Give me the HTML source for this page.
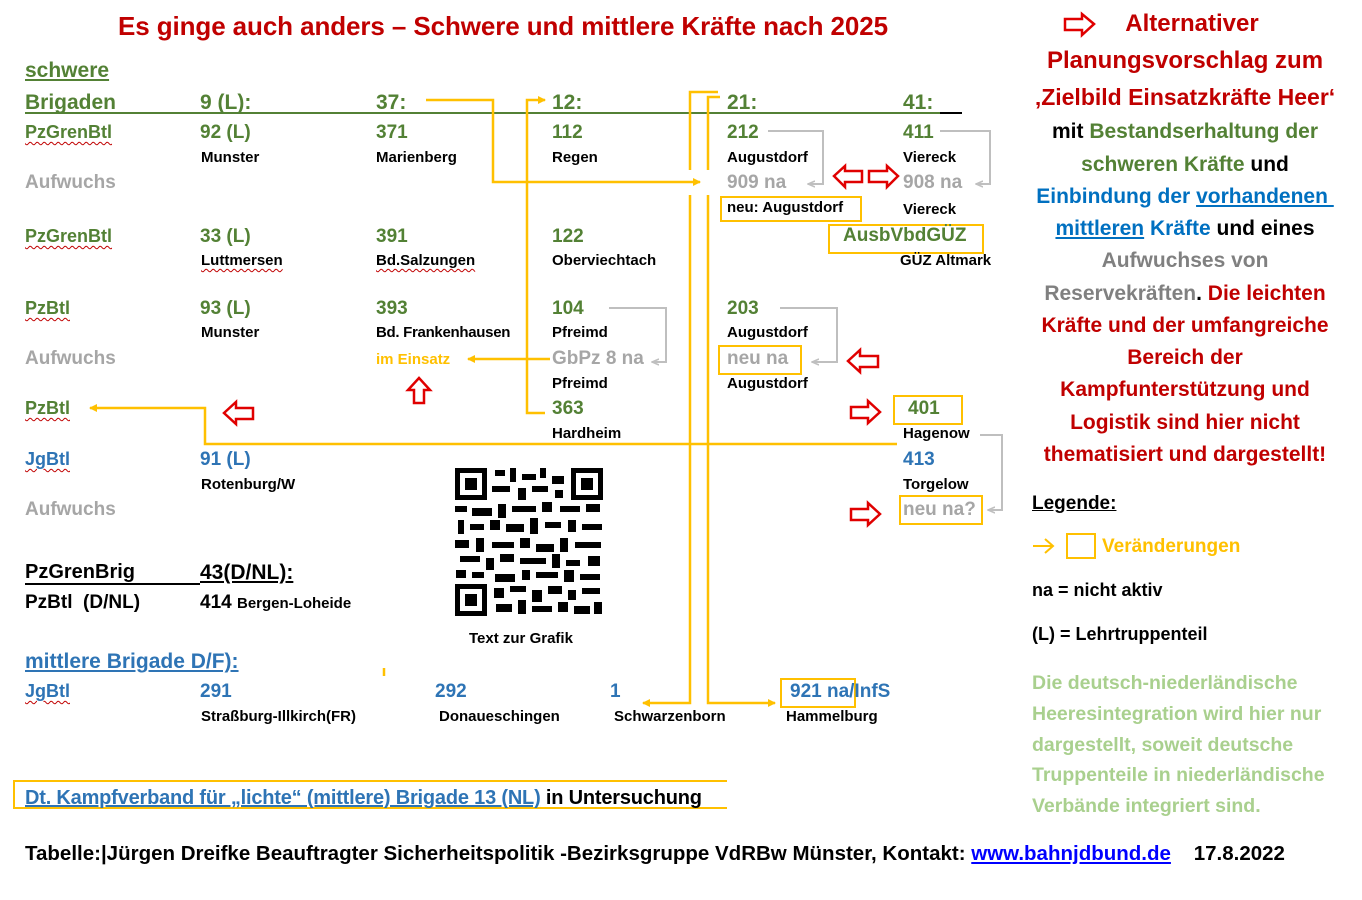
<!DOCTYPE html>
<html><head><meta charset="utf-8">
<style>
body{margin:0;background:#fff;}
#c{position:relative;width:1362px;height:900px;overflow:hidden;font-family:"Liberation Sans",sans-serif;font-weight:bold;}
.t{position:absolute;white-space:nowrap;line-height:1;}
.n{font-size:19px;color:#538135;}
.b{font-size:19px;color:#2e74b5;}
.g{font-size:19px;color:#a6a6a6;}
.p{font-size:15px;color:#000;}
.bx{position:absolute;border:2px solid #ffc000;}
.r{position:absolute;width:100%;text-align:center;left:0;}
.sq{text-decoration:underline wavy #c00000 1px;text-underline-offset:3px;}
</style></head><body><div id="c">

<div class="t" style="left:118px;top:13px;font-size:26px;color:#c00000;letter-spacing:-0.1px">Es ginge auch anders – Schwere und mittlere Kräfte nach 2025</div>

<svg width="1362" height="900" style="position:absolute;left:0;top:0">
<defs>
<marker id="ay" markerWidth="8" markerHeight="8" refX="7" refY="4" orient="auto" markerUnits="userSpaceOnUse"><path d="M0,0 L8,4 L0,8 z" fill="#ffc000"/></marker>
<marker id="ag" markerWidth="8" markerHeight="8" refX="7" refY="4" orient="auto" markerUnits="userSpaceOnUse"><path d="M0,1 L7,4 L0,7" fill="none" stroke="#bfbfbf" stroke-width="1.5"/></marker>
</defs>
<line x1="25" y1="113" x2="940" y2="113" stroke="#538135" stroke-width="2"/>
<line x1="940" y1="113" x2="962" y2="113" stroke="#000" stroke-width="2"/>
<g fill="none" stroke="#ffc000" stroke-width="2.5">
<polyline points="426,100 493,100 493,182 700,182" marker-end="url(#ay)"/>
<polyline points="545,413 527,413 527,100 545,100" marker-end="url(#ay)"/>
<polyline points="550,359 468,359" marker-end="url(#ay)"/>
<polyline points="897,444 205,444 205,408 90,408" marker-end="url(#ay)"/>
<polyline points="718,92 690,92 690,170"/>
<polyline points="690,195 690,703 643,703" marker-end="url(#ay)"/>
<polyline points="720,97 708,97 708,170"/>
<polyline points="708,195 708,703 775,703" marker-end="url(#ay)"/>
<line x1="384" y1="668" x2="384" y2="676"/>
</g>
<g fill="none" stroke="#bfbfbf" stroke-width="2">
<polyline points="768,131 823,131 823,184 808,184" marker-end="url(#ag)"/>
<polyline points="940,131 990,131 990,184 976,184" marker-end="url(#ag)"/>
<polyline points="609,308 666,308 666,362 652,362" marker-end="url(#ag)"/>
<polyline points="780,308 837,308 837,362 812,362" marker-end="url(#ag)"/>
<polyline points="980,435 1002,435 1002,510 988,510" marker-end="url(#ag)"/>
</g>
<g fill="#fff" stroke="#e00000" stroke-width="2.5">
<path d="M834,176 L845,166 L845,171 L862,171 L862,182 L845,182 L845,187 z"/>
<path d="M898,176 L887,166 L887,171 L869,171 L869,182 L887,182 L887,187 z"/>
<path d="M848,361 L860,350 L860,356 L878,356 L878,367 L860,367 L860,372 z"/>
<path d="M224,413 L236,402 L236,408 L253,408 L253,419 L236,419 L236,424 z"/>
<path d="M419,378 L430,390 L424,390 L424,403 L414,403 L414,390 L408,390 z"/>
<path d="M880,412 L868,401 L868,407 L851,407 L851,418 L868,418 L868,423 z"/>
<path d="M880,514 L868,503 L868,509 L851,509 L851,520 L868,520 L868,525 z"/>
<path d="M1094,24 L1082,14 L1082,19 L1065,19 L1065,30 L1082,30 L1082,35 z"/>
</g>
<path d="M1033,546 L1052,546 M1045,539 L1053,546 L1045,553" fill="none" stroke="#ffc000" stroke-width="2"/>
<!-- QR -->
<g fill="#000">
<rect x="455" y="468" width="32" height="32"/><rect x="460" y="473" width="22" height="22" fill="#fff"/><rect x="465" y="478" width="12" height="12"/>
<rect x="571" y="468" width="32" height="32"/><rect x="576" y="473" width="22" height="22" fill="#fff"/><rect x="581" y="478" width="12" height="12"/>
<rect x="455" y="584" width="32" height="32"/><rect x="460" y="589" width="22" height="22" fill="#fff"/><rect x="465" y="594" width="12" height="12"/>
<rect x="495" y="470" width="10" height="6"/><rect x="510" y="468" width="6" height="14"/><rect x="522" y="474" width="14" height="6"/><rect x="540" y="468" width="6" height="10"/><rect x="552" y="476" width="12" height="8"/>
<rect x="492" y="486" width="18" height="6"/><rect x="518" y="488" width="8" height="12"/><rect x="532" y="486" width="16" height="6"/><rect x="555" y="490" width="8" height="8"/>
<rect x="455" y="506" width="12" height="6"/><rect x="472" y="508" width="20" height="8"/><rect x="498" y="504" width="8" height="14"/><rect x="512" y="506" width="24" height="6"/><rect x="542" y="502" width="10" height="10"/><rect x="560" y="506" width="20" height="6"/><rect x="586" y="504" width="14" height="8"/>
<rect x="458" y="520" width="6" height="14"/><rect x="470" y="524" width="14" height="6"/><rect x="490" y="520" width="10" height="10"/><rect x="506" y="524" width="18" height="8"/><rect x="530" y="518" width="8" height="16"/><rect x="545" y="522" width="16" height="6"/><rect x="568" y="520" width="8" height="12"/><rect x="582" y="524" width="20" height="6"/>
<rect x="455" y="540" width="14" height="8"/><rect x="476" y="538" width="8" height="14"/><rect x="492" y="542" width="22" height="6"/><rect x="520" y="538" width="10" height="10"/><rect x="536" y="544" width="18" height="8"/><rect x="560" y="538" width="8" height="14"/><rect x="575" y="542" width="26" height="6"/>
<rect x="460" y="556" width="20" height="6"/><rect x="486" y="558" width="8" height="12"/><rect x="500" y="554" width="14" height="8"/><rect x="520" y="558" width="26" height="6"/><rect x="552" y="554" width="8" height="14"/><rect x="566" y="560" width="14" height="6"/><rect x="588" y="556" width="12" height="10"/>
<rect x="456" y="570" width="10" height="8"/><rect x="472" y="572" width="12" height="6"/><rect x="495" y="574" width="20" height="8"/><rect x="522" y="570" width="8" height="10"/><rect x="536" y="572" width="22" height="6"/><rect x="564" y="570" width="10" height="12"/><rect x="580" y="574" width="20" height="6"/>
<rect x="494" y="588" width="10" height="10"/><rect x="510" y="586" width="16" height="6"/><rect x="532" y="590" width="10" height="12"/><rect x="548" y="586" width="14" height="8"/><rect x="568" y="590" width="8" height="10"/><rect x="582" y="588" width="18" height="6"/>
<rect x="496" y="604" width="16" height="8"/><rect x="518" y="600" width="8" height="14"/><rect x="532" y="606" width="20" height="6"/><rect x="558" y="602" width="10" height="10"/><rect x="574" y="606" width="16" height="8"/><rect x="594" y="602" width="8" height="12"/>
</g>
</svg>

<div class="t n" style="left:25px;top:60px;font-size:21px;text-decoration:underline">schwere</div>
<div class="t n" style="left:25px;top:92px;font-size:21px">Brigaden</div>
<div class="t n" style="left:200px;top:92px;font-size:21px">9 (L):</div>
<div class="t n" style="left:376px;top:92px;font-size:21px">37:</div>
<div class="t n" style="left:552px;top:92px;font-size:21px">12:</div>
<div class="t n" style="left:727px;top:92px;font-size:21px">21:</div>
<div class="t n" style="left:903px;top:92px;font-size:21px">41:</div>

<div class="t n sq" style="left:25px;top:123px;font-size:18px">PzGrenBtl</div>
<div class="t n" style="left:200px;top:123px">92 (L)</div>
<div class="t n" style="left:376px;top:123px">371</div>
<div class="t n" style="left:552px;top:123px">112</div>
<div class="t n" style="left:727px;top:123px">212</div>
<div class="t n" style="left:903px;top:123px">411</div>
<div class="t p" style="left:201px;top:150px">Munster</div>
<div class="t p" style="left:376px;top:150px">Marienberg</div>
<div class="t p" style="left:552px;top:150px">Regen</div>
<div class="t p" style="left:727px;top:150px">Augustdorf</div>
<div class="t p" style="left:903px;top:150px">Viereck</div>
<div class="t g" style="left:25px;top:173px">Aufwuchs</div>
<div class="t g" style="left:727px;top:173px">909 na</div>
<div class="t g" style="left:903px;top:173px">908 na</div>
<div class="bx" style="left:720px;top:196px;width:138px;height:22px"></div>
<div class="t p" style="left:727px;top:200px">neu: Augustdorf</div>
<div class="t p" style="left:903px;top:202px">Viereck</div>
<div class="bx" style="left:828px;top:224px;width:152px;height:26px"></div>
<div class="t n" style="left:843px;top:226px">AusbVbdGÜZ</div>
<div class="t p" style="left:900px;top:253px">GÜZ Altmark</div>

<div class="t n sq" style="left:25px;top:227px;font-size:18px">PzGrenBtl</div>
<div class="t n" style="left:200px;top:227px">33 (L)</div>
<div class="t n" style="left:376px;top:227px">391</div>
<div class="t n" style="left:552px;top:227px">122</div>
<div class="t p sq" style="left:201px;top:253px">Luttmersen</div>
<div class="t p sq" style="left:376px;top:253px">Bd.Salzungen</div>
<div class="t p" style="left:552px;top:253px">Oberviechtach</div>

<div class="t n sq" style="left:25px;top:299px;font-size:18px">PzBtl</div>
<div class="t n" style="left:200px;top:299px">93 (L)</div>
<div class="t n" style="left:376px;top:299px">393</div>
<div class="t n" style="left:552px;top:299px">104</div>
<div class="t n" style="left:727px;top:299px">203</div>
<div class="t p" style="left:201px;top:325px">Munster</div>
<div class="t p" style="left:376px;top:325px;letter-spacing:-0.3px">Bd. Frankenhausen</div>
<div class="t p" style="left:552px;top:325px">Pfreimd</div>
<div class="t p" style="left:727px;top:325px">Augustdorf</div>
<div class="t g" style="left:25px;top:349px">Aufwuchs</div>
<div class="t" style="left:376px;top:352px;font-size:15px;color:#ffc000">im Einsatz</div>
<div class="t g" style="left:552px;top:349px">GbPz 8 na</div>
<div class="bx" style="left:718px;top:345px;width:80px;height:26px"></div>
<div class="t g" style="left:727px;top:349px">neu na</div>
<div class="t p" style="left:552px;top:376px">Pfreimd</div>
<div class="t p" style="left:727px;top:376px">Augustdorf</div>

<div class="t n sq" style="left:25px;top:399px;font-size:18px">PzBtl</div>
<div class="t n" style="left:552px;top:399px">363</div>
<div class="bx" style="left:893px;top:395px;width:66px;height:26px"></div>
<div class="t n" style="left:908px;top:399px">401</div>
<div class="t p" style="left:552px;top:426px">Hardheim</div>
<div class="t p" style="left:903px;top:426px">Hagenow</div>

<div class="t b sq" style="left:25px;top:450px;font-size:18px">JgBtl</div>
<div class="t b" style="left:200px;top:450px">91 (L)</div>
<div class="t b" style="left:903px;top:450px">413</div>
<div class="t p" style="left:201px;top:477px">Rotenburg/W</div>
<div class="t p" style="left:903px;top:477px">Torgelow</div>
<div class="t g" style="left:25px;top:500px">Aufwuchs</div>
<div class="bx" style="left:899px;top:495px;width:80px;height:26px"></div>
<div class="t g" style="left:903px;top:500px">neu na?</div>

<div class="t" style="left:25px;top:562px;font-size:20px;color:#000;border-bottom:2px solid #000;width:175px;padding-bottom:1px">PzGrenBrig</div>
<div class="t" style="left:200px;top:562px;font-size:21px;color:#000;text-decoration:underline">43(D/NL):</div>
<div class="t" style="left:25px;top:593px;font-size:19px;color:#000">PzBtl &nbsp;(D/NL)</div>
<div class="t" style="left:200px;top:593px;font-size:19px;color:#000">414 <span style="font-size:15px">Bergen-Loheide</span></div>
<div class="t p" style="left:469px;top:631px">Text zur Grafik</div>

<div class="t b" style="left:25px;top:651px;font-size:21px;text-decoration:underline">mittlere Brigade D/F):</div>
<div class="t b sq" style="left:25px;top:682px;font-size:18px">JgBtl</div>
<div class="t b" style="left:200px;top:682px">291</div>
<div class="t b" style="left:435px;top:682px">292</div>
<div class="t b" style="left:610px;top:682px">1</div>
<div class="bx" style="left:780px;top:678px;width:72px;height:26px"></div>
<div class="t b" style="left:790px;top:682px">921 na/InfS</div>
<div class="t p" style="left:201px;top:709px">Straßburg-Illkirch(FR)</div>
<div class="t p" style="left:439px;top:709px">Donaueschingen</div>
<div class="t p" style="left:614px;top:709px">Schwarzenborn</div>
<div class="t p" style="left:786px;top:709px">Hammelburg</div>

<div class="bx" style="left:13px;top:780px;width:712px;height:25px;border-right:none"></div>
<div class="t" style="left:25px;top:788px;font-size:20px;color:#2e74b5;letter-spacing:-0.2px"><span style="text-decoration:underline">Dt. Kampfverband für „lichte“ (mittlere) Brigade 13 (NL)</span> <span style="color:#000">in Untersuchung</span></div>

<div class="t" style="left:25px;top:844px;font-size:20.5px;color:#000;letter-spacing:0px">Tabelle:|Jürgen Dreifke Beauftragter Sicherheitspolitik -Bezirksgruppe VdRBw Münster, Kontakt: <span style="color:#0000ff;text-decoration:underline">www.bahnjdbund.de</span> &nbsp;&nbsp; 17.8.2022</div>

<div style="position:absolute;left:1010px;top:0;width:350px;height:470px">
<div class="r" style="top:10px;font-size:24px;color:#c00000;padding-left:14px;box-sizing:border-box">Alternativer</div>
<div class="r" style="top:47px;font-size:24px;color:#c00000">Planungsvorschlag zum</div>
<div class="r" style="top:84px;font-size:23px;color:#c00000">‚Zielbild Einsatzkräfte Heer‘</div>
<div class="r" style="top:120px;font-size:21px;color:#000">mit <span style="color:#538135">Bestandserhaltung der</span></div>
<div class="r" style="top:153px;font-size:21px;color:#538135">schweren Kräfte <span style="color:#000">und</span></div>
<div class="r" style="top:185px;font-size:21px;color:#0070c0">Einbindung der <u>vorhandenen&nbsp;</u></div>
<div class="r" style="top:217px;font-size:21px;color:#0070c0"><u>mittleren</u> Kräfte <span style="color:#000">und eines</span></div>
<div class="r" style="top:249px;font-size:21px;color:#808080">Aufwuchses von</div>
<div class="r" style="top:282px;font-size:21px;color:#808080">Reservekräften<span style="color:#000">.</span> <span style="color:#c00000">Die leichten</span></div>
<div class="r" style="top:314px;font-size:21px;color:#c00000">Kräfte und der umfangreiche</div>
<div class="r" style="top:346px;font-size:21px;color:#c00000">Bereich der</div>
<div class="r" style="top:378px;font-size:21px;color:#c00000">Kampfunterstützung und</div>
<div class="r" style="top:411px;font-size:21px;color:#c00000">Logistik sind hier nicht</div>
<div class="r" style="top:443px;font-size:21px;color:#c00000">thematisiert und dargestellt!</div>
</div>
<div class="t" style="left:1032px;top:494px;font-size:19px;color:#000;text-decoration:underline">Legende:</div>
<div class="bx" style="left:1066px;top:533px;width:26px;height:22px"></div>
<div class="t" style="left:1102px;top:537px;font-size:19px;color:#ffc000">Veränderungen</div>
<div class="t" style="left:1032px;top:581px;font-size:18px;color:#000">na = nicht aktiv</div>
<div class="t" style="left:1032px;top:625px;font-size:18px;color:#000">(L) = Lehrtruppenteil</div>
<div class="t" style="left:1032px;top:668px;font-size:19.5px;color:#a9d08e;line-height:30.8px">Die deutsch-niederländische<br>Heeresintegration wird hier nur<br>dargestellt, soweit deutsche<br>Truppenteile in niederländische<br>Verbände integriert sind.</div>

</div></body></html>
